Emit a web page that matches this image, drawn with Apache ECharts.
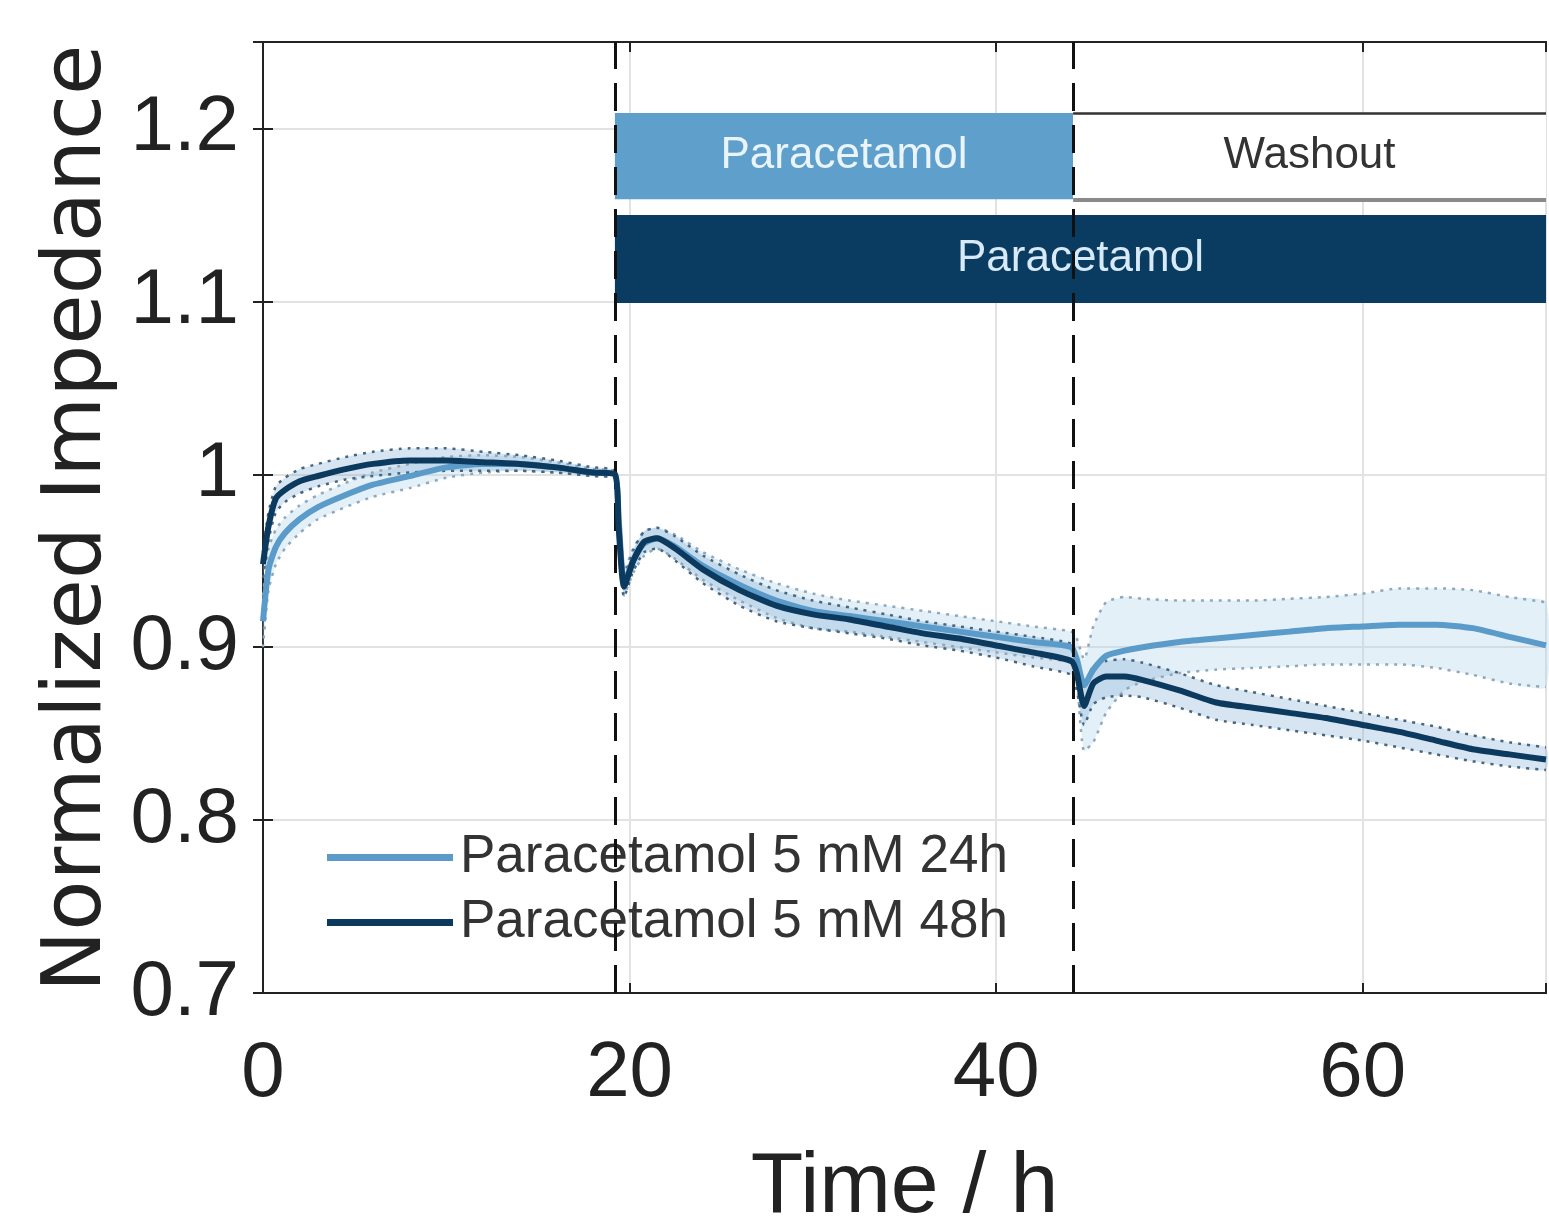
<!DOCTYPE html>
<html>
<head>
<meta charset="utf-8">
<script src="https://cdn.jsdelivr.net/npm/echarts@6/dist/echarts.min.js"></script>
<style>
  html, body { margin: 0; padding: 0; background: #fff; }
  #chart { width: 1549px; height: 1216px; }
</style>
</head>
<body>
<div id="chart"></div>
<script>
// time points (h)
const times = [0, 0.3, 0.7, 1.2, 2, 3, 4.5, 6, 8, 10, 12, 14, 16, 18, 19.2, 19.4, 19.7, 20.2, 20.8, 21.5,
  22.5, 24, 26, 28, 30, 32, 34, 36, 38, 40, 42, 44.1, 44.4, 44.8, 45.3, 46, 47, 48, 50, 52,
  54, 56, 58, 60, 62, 64, 66, 68, 70];

// Paracetamol 5 mM 24h
const mean24 = [0.915, 0.945, 0.958, 0.966, 0.974, 0.981, 0.988, 0.994, 0.999, 1.004, 1.006, 1.006, 1.004, 1.001, 1.000, 0.975, 0.937, 0.950, 0.960, 0.963,
  0.958, 0.947, 0.936, 0.927, 0.921, 0.918, 0.915, 0.912, 0.909, 0.906, 0.903, 0.900, 0.893, 0.878, 0.887, 0.895, 0.898, 0.900, 0.903, 0.905,
  0.907, 0.909, 0.911, 0.912, 0.913, 0.913, 0.911, 0.906, 0.901];
const upper24 = [0.930, 0.957, 0.968, 0.975, 0.982, 0.988, 0.995, 1.001, 1.006, 1.010, 1.011, 1.010, 1.007, 1.003, 1.002, 0.980, 0.944, 0.957, 0.967, 0.969,
  0.965, 0.955, 0.945, 0.937, 0.931, 0.927, 0.924, 0.921, 0.918, 0.915, 0.912, 0.909, 0.905, 0.893, 0.912, 0.926, 0.929, 0.928, 0.927, 0.927,
  0.927, 0.928, 0.929, 0.931, 0.934, 0.934, 0.933, 0.929, 0.926];
const lower24 = [0.900, 0.933, 0.948, 0.957, 0.966, 0.974, 0.981, 0.987, 0.992, 0.998, 1.001, 1.002, 1.001, 0.999, 0.998, 0.970, 0.930, 0.943, 0.953, 0.957,
  0.951, 0.939, 0.927, 0.917, 0.911, 0.909, 0.906, 0.903, 0.900, 0.897, 0.894, 0.891, 0.881, 0.840, 0.845, 0.862, 0.875, 0.880, 0.885, 0.887,
  0.888, 0.889, 0.890, 0.890, 0.890, 0.888, 0.884, 0.879, 0.877];

// Paracetamol 5 mM 48h
const mean48 = [0.948, 0.970, 0.986, 0.991, 0.996, 0.999, 1.003, 1.006, 1.008, 1.008, 1.007, 1.006, 1.004, 1.001, 1.000, 0.970, 0.935, 0.950, 0.961, 0.963,
  0.957, 0.945, 0.933, 0.924, 0.919, 0.916, 0.912, 0.908, 0.905, 0.901, 0.897, 0.892, 0.885, 0.866, 0.879, 0.883, 0.883, 0.881, 0.875, 0.868,
  0.865, 0.862, 0.859, 0.855, 0.851, 0.846, 0.841, 0.838, 0.835];
const upper48 = [0.955, 0.978, 0.993, 0.998, 1.003, 1.006, 1.010, 1.013, 1.015, 1.015, 1.013, 1.011, 1.008, 1.004, 1.002, 0.975, 0.941, 0.956, 0.967, 0.969,
  0.964, 0.953, 0.942, 0.933, 0.927, 0.923, 0.919, 0.915, 0.912, 0.909, 0.906, 0.902, 0.895, 0.878, 0.889, 0.892, 0.893, 0.891, 0.885, 0.878,
  0.874, 0.870, 0.866, 0.862, 0.858, 0.854, 0.849, 0.845, 0.842];
const lower48 = [0.940, 0.962, 0.978, 0.984, 0.989, 0.993, 0.997, 0.999, 1.001, 1.002, 1.002, 1.002, 1.001, 0.999, 0.998, 0.965, 0.929, 0.944, 0.955, 0.957,
  0.950, 0.937, 0.924, 0.915, 0.911, 0.908, 0.905, 0.901, 0.898, 0.894, 0.889, 0.884, 0.875, 0.855, 0.867, 0.871, 0.872, 0.871, 0.865, 0.858,
  0.855, 0.852, 0.849, 0.846, 0.842, 0.838, 0.834, 0.831, 0.829];

// treatment phases
const addTime = 19.2;
const washTime = 44.2;
const endTime = 70;
const phaseTop = [1.159, 1.209];   // 24h bar: paracetamol, then washout
const phaseBottom = [1.099, 1.150]; // 48h bar: paracetamol throughout

const seriesNames = ["Paracetamol 5 mM 24h", "Paracetamol 5 mM 48h"];
const font = "Liberation Sans";

const pair = (ys) => times.map((t, i) => [t, ys[i]]);

function band(lo, hi, fill) {
    return {
        type: "custom",
        silent: true,
        z: 1,
        data: times.map((t, i) => [t, lo[i], hi[i]]),
        encode: { x: 0, y: [1, 2] },
        renderItem: (params, api) => {
            if (params.dataIndex !== 0) return;
            const top = times.map((t, i) => api.coord([t, hi[i]]));
            const bot = times.map((t, i) => api.coord([t, lo[i]])).reverse();
            return {
                type: "polygon",
                shape: { points: top.concat(bot), smooth: 0.2 },
                style: { fill: fill }
            };
        }
    };
}

function bound(ys, color) {
    return {
        type: "line",
        data: pair(ys),
        showSymbol: false,
        silent: true,
        smooth: 0.2,
        z: 2,
        lineStyle: { color: color, width: 2.5, type: [3, 6] }
    };
}

var myChart = echarts.init(document.getElementById("chart"));
myChart.setOption({
    animation: false,
    textStyle: { fontFamily: font },
    grid: {
        left: 263, right: 3, top: 42, bottom: 223,
        outerBoundsMode: "none",
        show: true, borderColor: "#222", borderWidth: 2
    },
    legend: {
        data: seriesNames,
        orient: "vertical",
        left: 322,
        top: 826,
        itemWidth: 126,
        itemHeight: 7,
        itemGap: 12,
        icon: "rect",
        textStyle: { fontFamily: font, fontSize: 53, color: "#333", padding: [0, 0, 0, 2] }
    },
    xAxis: [
        {
            type: "value",
            min: 0,
            max: endTime,
            interval: 20,
            axisLine: { show: true, lineStyle: { color: "#222", width: 2 } },
            axisTick: { show: true, inside: true, length: 10, lineStyle: { color: "#222", width: 2 } },
            splitLine: { show: true, lineStyle: { color: "#e2e2e2", width: 2 } },
            axisLabel: {
                fontSize: 78,
                color: "#222",
                margin: 42,
                formatter: v => (v % 20 === 0 ? String(v) : "")
            },
            name: "Time / h",
            nameLocation: "middle",
            nameGap: 152,
            nameTextStyle: { fontFamily: font, fontSize: 86, color: "#222" }
        },
        {
            type: "value",
            position: "top",
            min: 0,
            max: endTime,
            interval: 20,
            axisLine: { show: true, lineStyle: { color: "#222", width: 2 } },
            axisTick: { show: true, inside: true, length: 10, lineStyle: { color: "#222", width: 2 } },
            splitLine: { show: false },
            axisLabel: { show: false }
        }
    ],
    yAxis: [
        {
            type: "value",
            min: 0.7,
            max: 1.25,
            interval: 0.1,
            axisLine: { show: true, lineStyle: { color: "#222", width: 2 } },
            axisTick: { show: true, inside: true, length: 10, lineStyle: { color: "#222", width: 2 } },
            splitLine: { show: true, lineStyle: { color: "#e2e2e2", width: 2 } },
            axisLabel: {
                fontSize: 78,
                color: "#222",
                margin: 24,
                formatter: v => (Math.abs(v * 10 - Math.round(v * 10)) < 1e-6 ? String(+v.toFixed(1)) : "")
            }
        },
        {
            type: "value",
            position: "right",
            min: 0.7,
            max: 1.25,
            interval: 0.1,
            axisLine: { show: true, lineStyle: { color: "#222", width: 2 } },
            axisTick: { show: true, inside: true, length: 10, lineStyle: { color: "#222", width: 2 } },
            splitLine: { show: false },
            axisLabel: { show: false }
        }
    ],
    graphic: [
        {
            type: "text",
            x: 38,
            y: 992,
            rotation: Math.PI / 2,
            style: {
                text: "Normalized Impedance",
                fontFamily: "DejaVu Sans",
                fontSize: 82,
                fill: "#222",
                textAlign: "left",
                textVerticalAlign: "top"
            }
        }
    ],
    series: [
        band(lower24, upper24, "rgba(175,212,236,0.35)"),
        band(lower48, upper48, "rgba(120,170,210,0.30)"),
        bound(upper24, "#8ea8bd"),
        bound(lower24, "#8ea8bd"),
        bound(upper48, "#46667f"),
        bound(lower48, "#46667f"),
        {
            type: "line",
            name: seriesNames[0],
            data: pair(mean24),
            showSymbol: false,
            smooth: 0.2,
            z: 4,
            color: "#5b9bc9",
            lineStyle: { color: "#5b9bc9", width: 6 }
        },
        {
            type: "line",
            name: seriesNames[1],
            data: pair(mean48),
            showSymbol: false,
            smooth: 0.2,
            z: 5,
            color: "#0c3a5e",
            lineStyle: { color: "#0c3a5e", width: 6 },
            markArea: {
                silent: true,
                data: [
                    [
                        { xAxis: addTime, yAxis: phaseTop[0], itemStyle: { color: "#5f9fcb" },
                          label: { show: true, position: "inside", formatter: "Paracetamol", color: "#eaf4fb", fontSize: 44, fontFamily: font } },
                        { xAxis: washTime, yAxis: phaseTop[1] }
                    ],
                    [
                        { xAxis: washTime, yAxis: phaseTop[0], itemStyle: { color: "#ffffff" },
                          label: { show: true, position: "inside", formatter: "Washout", color: "#333", fontSize: 44, fontFamily: font } },
                        { xAxis: endTime, yAxis: phaseTop[1] }
                    ],
                    [
                        { xAxis: addTime, yAxis: phaseBottom[0], itemStyle: { color: "#0a3b60" },
                          label: { show: true, position: "inside", formatter: "Paracetamol", color: "#d8eaf7", fontSize: 44, fontFamily: font } },
                        { xAxis: endTime, yAxis: phaseBottom[1] }
                    ]
                ]
            },
            markLine: {
                silent: true,
                symbol: "none",
                label: { show: false },
                data: [
                    { xAxis: addTime, lineStyle: { color: "#111", width: 3, type: [28, 14] } },
                    { xAxis: washTime, lineStyle: { color: "#111", width: 3, type: [28, 14] } },
                    [
                        { coord: [washTime, phaseTop[1]], lineStyle: { color: "#333", width: 2.5, type: "solid" } },
                        { coord: [endTime, phaseTop[1]] }
                    ],
                    [
                        { coord: [washTime, phaseTop[0]], lineStyle: { color: "#8a8a8a", width: 4, type: "solid" } },
                        { coord: [endTime, phaseTop[0]] }
                    ]
                ]
            }
        }
    ]
});
</script>
</body>
</html>
